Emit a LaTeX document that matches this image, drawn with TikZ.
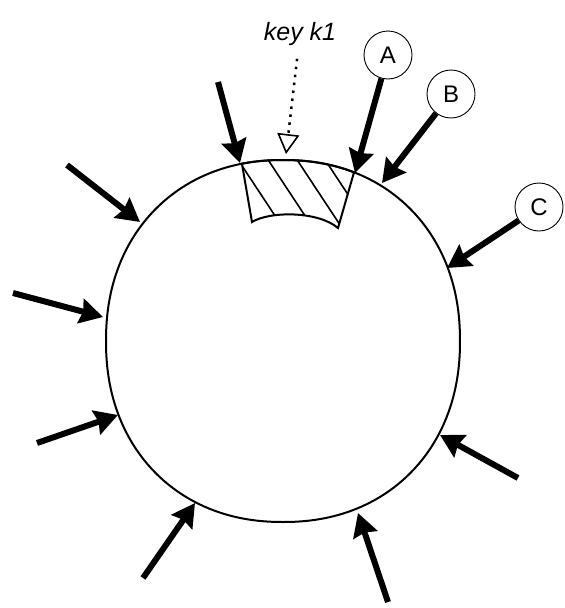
\documentclass[tikz,border=0pt]{standalone}
\usepackage{fontspec}
\setmainfont{Liberation Sans}
\usetikzlibrary{arrows.meta}
\begin{document}
\begin{tikzpicture}[x=1pt,y=-1pt,
  tag/.style={circle, draw, line width=0.9pt, minimum size=48pt, inner sep=0pt, font=\fontsize{24}{26}\selectfont},
  bigarrow/.style={line width=6pt, -{Stealth[length=23pt,width=25pt,inset=2.5pt]}},
  keyarrow/.style={line width=2.5pt, dash pattern=on 2.5pt off 5.5pt, -{Triangle[open,length=20pt,width=22pt,line width=1.6pt]}},
  ring/.style={line width=2pt},
  hatchline/.style={line width=1.6pt},
  ]
\useasboundingbox (0,0) rectangle (565,608);
% big ring (hand-drawn, slightly squarish)
\draw[ring] plot[domain=1:361, samples=181, smooth]
  ({283+177*cos(\x)*pow(abs(cos(\x)),-0.07)}, {341-181*sin(\x)*pow(abs(sin(\x)),-0.07)}) -- cycle;
% hatched key range
\begin{scope}
  \clip plot[domain=102:68, samples=18]
    ({283+177*cos(\x)*pow(abs(cos(\x)),-0.07)}, {341-181*sin(\x)*pow(abs(sin(\x)),-0.07)})
    -- (338,228) .. controls (318,211) and (270,211) .. (252,222) -- cycle;
  \foreach \hx in {258,288,317,345}
    \draw[hatchline] (\hx-33,140) -- (\hx+33,240);
\end{scope}
\draw[ring] plot[domain=102:68, samples=18]
    ({283+177*cos(\x)*pow(abs(cos(\x)),-0.07)}, {341-181*sin(\x)*pow(abs(sin(\x)),-0.07)})
    -- (338,228) .. controls (318,211) and (270,211) .. (252,222) -- cycle;
% key label and dotted pointer
\node[font=\fontsize{25}{27}\selectfont\itshape, inner sep=2pt] (key) at (300,34) {key k1};
\coordinate (keytip) at (286,154);
\draw[keyarrow, shorten <=11pt] (key) -- (keytip);
% tagged nodes
\node[tag] (A) at (388,55) {A};
\node[tag] (B) at (451,94) {B};
\node[tag] (C) at (539,207) {C};
% arrow tips on the ring
\coordinate (tA) at (355,173);
\coordinate (tB) at (382,183);
\coordinate (tC) at (447,268);
\coordinate (t1) at (240,163);
\coordinate (t5) at (140,222);
\coordinate (t6) at (103,317);
\coordinate (t7) at (118,415);
\coordinate (t8) at (195,503);
\coordinate (t9) at (358,513);
\coordinate (t10) at (440,435);
% free tails
\coordinate (s1) at (218,82);
\coordinate (s5) at (67,165);
\coordinate (s6) at (13,293);
\coordinate (s7) at (37,443);
\coordinate (s8) at (143,578);
\coordinate (s9) at (388,602);
\coordinate (s10) at (518,478);
% arrows
\draw[bigarrow] (A) -- (tA);
\draw[bigarrow] (B) -- (tB);
\draw[bigarrow] (C) -- (tC);
\draw[bigarrow] (s1) -- (t1);
\draw[bigarrow] (s5) -- (t5);
\draw[bigarrow] (s6) -- (t6);
\draw[bigarrow] (s7) -- (t7);
\draw[bigarrow] (s8) -- (t8);
\draw[bigarrow] (s9) -- (t9);
\draw[bigarrow] (s10) -- (t10);
\end{tikzpicture}
\end{document}
